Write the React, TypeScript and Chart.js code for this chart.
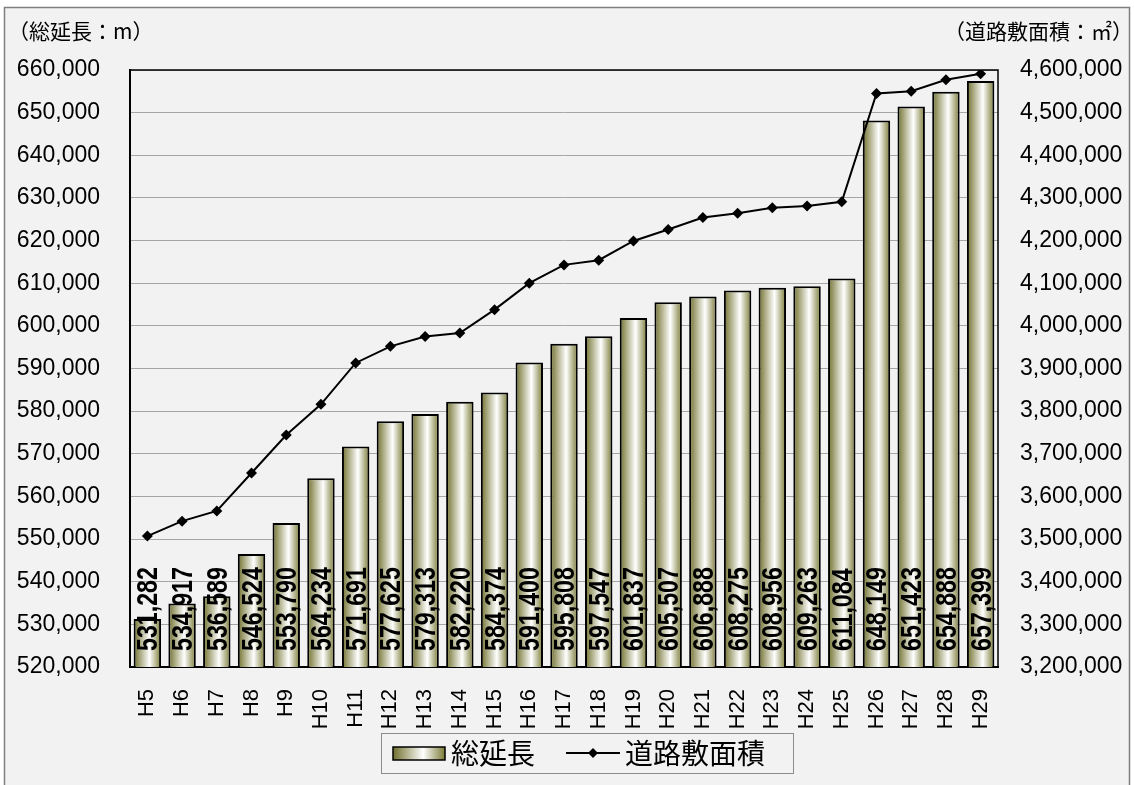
import React, { useEffect, useRef } from "react";
import { Chart, registerables } from "chart.js";

Chart.register(...registerables);

const categories = ["H5","H6","H7","H8","H9","H10","H11","H12","H13","H14","H15","H16","H17","H18","H19","H20","H21","H22","H23","H24","H25","H26","H27","H28","H29"];
const totalLength = [531282,534917,536589,546524,553790,564234,571691,577625,579313,582220,584374,591400,595808,597547,601837,605507,606888,608275,608956,609263,611084,648149,651423,654888,657399];
const roadArea = [3507000,3542000,3566000,3655000,3744000,3816000,3913000,3952000,3975000,3983000,4038000,4100000,4143000,4154000,4199000,4226000,4254000,4264000,4277000,4281000,4291000,4545000,4550000,4577000,4591000];
const leftTitle = "（総延長：m）";
const rightTitle = "（道路敷面積：㎡）";
const barLabel = "総延長";
const lineLabel = "道路敷面積";

const NUM_FONT = "'Liberation Sans', Arial, sans-serif";
const JP_FONT = "'Noto Sans CJK JP', sans-serif";
const BAR_PCT = 0.79;

function makeGradient(c: CanvasRenderingContext2D, x0: number, x1: number) {
  const g = c.createLinearGradient(x0, 0, x1, 0);
  g.addColorStop(0, "#6f6f2c");
  g.addColorStop(0.58, "#ffffff");
  g.addColorStop(1, "#7a7a36");
  return g;
}

const decorPlugin = {
  id: "decor",
  beforeDraw(chart: any) {
    const c = chart.ctx as CanvasRenderingContext2D;
    const W = chart.width, H = chart.height;
    c.save();
    c.fillStyle = "#ffffff";
    c.fillRect(0, 0, W, H);
    c.fillStyle = "#f2f2f2";
    c.fillRect(5, 8, W - 10, H);
    c.strokeStyle = "#7f7f7f";
    c.lineWidth = 1.5;
    c.strokeRect(4.5, 7.5, W - 9, H + 10);
    c.restore();
  },
  afterDatasetsDraw(chart: any) {
    const c = chart.ctx as CanvasRenderingContext2D;
    const area = chart.chartArea;
    const xs = chart.scales.x;
    c.save();
    c.strokeStyle = "#000";
    c.lineWidth = 1.5;
    c.beginPath();
    c.moveTo(area.left, area.top);
    c.lineTo(area.right, area.top);
    c.lineTo(area.right, area.bottom);
    c.stroke();
    c.fillStyle = "#000";
    c.font = "bold 29px " + NUM_FONT;
    c.textAlign = "left";
    c.textBaseline = "middle";
    totalLength.forEach((v, i) => {
      const x = xs.getPixelForValue(i);
      c.save();
      c.translate(x + 1, area.bottom - 16);
      c.rotate(-Math.PI / 2);
      c.scale(0.8, 1);
      c.fillText(v.toLocaleString("en-US"), 0, 1);
      c.restore();
    });
    c.font = "21px " + JP_FONT;
    c.textBaseline = "middle";
    c.textAlign = "left";
    c.fillText(leftTitle, 8, 31);
    c.textAlign = "right";
    c.fillText(rightTitle, chart.width - 1, 31);
    const lx = 381, ly = 733, lw = 412, lh = 40;
    c.fillStyle = "#f2f2f2";
    c.fillRect(lx, ly, lw, lh);
    c.strokeStyle = "#8c8c8c";
    c.lineWidth = 1;
    c.strokeRect(lx + 0.5, ly + 0.5, lw, lh);
    const sx = 393, sy = 747, sw = 52, sh = 13;
    c.fillStyle = makeGradient(c, sx, sx + sw);
    c.fillRect(sx, sy, sw, sh);
    c.strokeStyle = "#000";
    c.lineWidth = 1.5;
    c.strokeRect(sx, sy, sw, sh);
    c.fillStyle = "#000";
    c.font = "28px " + JP_FONT;
    c.textAlign = "left";
    c.textBaseline = "middle";
    c.fillText(barLabel, 451, 753);
    c.lineWidth = 2;
    c.beginPath();
    c.moveTo(566, 753);
    c.lineTo(620, 753);
    c.stroke();
    c.beginPath();
    c.moveTo(593, 748);
    c.lineTo(598, 753);
    c.lineTo(593, 758);
    c.lineTo(588, 753);
    c.closePath();
    c.fill();
    c.fillText(lineLabel, 625, 753);
    c.restore();
  },
};

export default function App() {
  const ref = useRef<HTMLCanvasElement | null>(null);
  useEffect(() => {
    document.body.style.margin = "0";
    const canvas = ref.current!;
    const chart = new Chart(canvas, {
      type: "bar",
      data: {
        labels: categories,
        datasets: [
          {
            type: "line",
            label: lineLabel,
            data: roadArea,
            yAxisID: "y1",
            borderColor: "#000",
            backgroundColor: "#000",
            borderWidth: 2,
            pointStyle: "rectRot",
            pointRadius: 5.5,
            pointBorderWidth: 0,
            tension: 0,
            order: 0,
          } as any,
          {
            type: "bar",
            label: barLabel,
            data: totalLength,
            yAxisID: "y",
            borderColor: "#000",
            borderWidth: 2,
            borderSkipped: false,
            categoryPercentage: 1,
            barPercentage: BAR_PCT,
            backgroundColor: (ctx: any) => {
              const ch = ctx.chart;
              const xs = ch.scales && ch.scales.x;
              if (!xs || ctx.type !== "data") return "#b8b888";
              const x = xs.getPixelForValue(ctx.dataIndex);
              const half = (xs.width / categories.length) * BAR_PCT / 2;
              if (!isFinite(x) || !isFinite(half) || half <= 0) return "#b8b888";
              return makeGradient(ch.ctx, x - half, x + half);
            },
            order: 1,
          } as any,
        ],
      },
      options: {
        animation: false,
        responsive: false,
        maintainAspectRatio: false,
        layout: { padding: { top: 70, left: 0, right: 0, bottom: 0 } },
        plugins: {
          legend: { display: false },
          tooltip: { enabled: false },
          title: { display: false },
        },
        scales: {
          x: {
            grid: { display: false },
            border: { color: "#000", width: 2 },
            ticks: {
              minRotation: 90,
              maxRotation: 90,
              padding: 14,
              color: "#000",
              font: { family: NUM_FONT, size: 22 },
              autoSkip: false,
            },
            afterFit: (s: any) => { s.height = 118; },
          },
          y: {
            position: "left",
            min: 520000,
            max: 660000,
            grid: { color: "#a6a6a6", lineWidth: 1, drawTicks: false },
            border: { color: "#000", width: 2 },
            ticks: {
              stepSize: 10000,
              padding: 30,
              color: "#000",
              font: { family: NUM_FONT, size: 23 },
              callback: (v: any) => Number(v).toLocaleString("en-US"),
            },
            afterFit: (s: any) => { s.width = 130; },
          },
          y1: {
            position: "right",
            min: 3200000,
            max: 4600000,
            grid: { display: false, drawTicks: false },
            border: { display: false },
            ticks: {
              stepSize: 100000,
              padding: 22,
              color: "#000",
              font: { family: NUM_FONT, size: 23 },
              callback: (v: any) => Number(v).toLocaleString("en-US"),
            },
            afterFit: (s: any) => { s.width = 136; },
          },
        },
      },
      plugins: [decorPlugin],
    });
    return () => chart.destroy();
  }, []);
  return (
    <div style={{ width: 1134, height: 785 }}>
      <canvas ref={ref} width={1134} height={785} style={{ display: "block", width: 1134, height: 785 }} />
    </div>
  );
}
